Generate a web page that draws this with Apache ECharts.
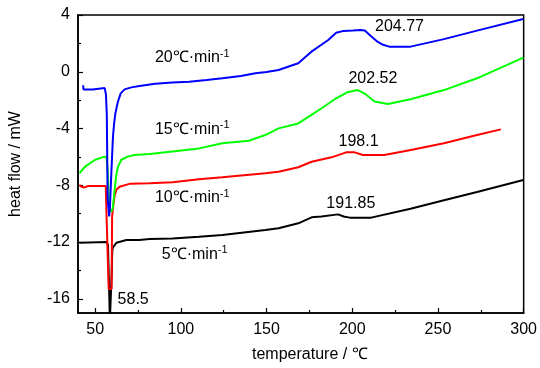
<!DOCTYPE html>
<html>
<head>
<meta charset="utf-8">
<script src="https://cdn.jsdelivr.net/npm/echarts@6/dist/echarts.min.js"></script>
<style>
  html, body { margin: 0; padding: 0; background: #fff; }
  #chart { width: 540px; height: 368px; }
</style>
</head>
<body>
<div id="chart"></div>
<script>
// DSC curves at 4 heating rates
const FONT = "'Liberation Sans', Arial, sans-serif";

const xLabels = [50, 100, 150, 200, 250, 300];
const xMinor = [75, 125, 175, 225, 275];
const yLabels = [4, 0, -4, -8, -12, -16];
const yMinor = [2, -2, -6, -10, -14];

// 20 ℃/min
const tBlue = [43, 43.2, 48.5, 48.6, 55.6, 56.3, 56.8, 57.3, 58.2, 58.6, 59.5, 60.4, 61.1, 61.8, 63.3, 64.9, 67.2, 71.1, 75.9, 85, 95, 104.9, 115, 124.2, 135, 143.5, 150, 157, 168.5, 176, 182, 186, 190.6, 195, 200.4, 204.8, 207.3, 211, 214.9, 218, 221.6, 234, 253.5, 272.8, 299.8];
const vBlue = [-0.95, -1.25, -1.25, -1.15, -1.15, -1.6, -3, -9.0, -10.2, -9.6, -7, -4.57, -3.6, -2.93, -2.1, -1.52, -1.24, -1.1, -1.0, -0.85, -0.75, -0.7, -0.58, -0.46, -0.3, -0.11, -0.02, 0.12, 0.6, 1.4, 1.9, 2.24, 2.75, 2.88, 2.9, 2.95, 2.9, 2.5, 2.1, 1.9, 1.77, 1.77, 2.3, 2.9, 3.72];

// 15 ℃/min
const tGreen = [40.8, 44, 47, 50, 52.7, 55, 56.6, 57.3, 58.3, 59.5, 60.3, 61.4, 62.3, 63.3, 65.3, 69.1, 73, 81.7, 99, 110.6, 124.2, 139.6, 149.3, 157, 168.5, 176, 183, 190.6, 197, 203.3, 208, 213, 220.7, 234, 253.5, 272.8, 299.8];
const vGreen = [-7.16, -6.7, -6.45, -6.2, -6.1, -6.0, -5.98, -7.0, -9.6, -9.86, -9.6, -8.3, -7.3, -6.69, -6.2, -5.98, -5.87, -5.8, -5.56, -5.4, -5.04, -4.86, -4.46, -3.99, -3.64, -3.05, -2.5, -1.87, -1.45, -1.29, -1.6, -2.1, -2.27, -1.94, -1.29, -0.46, 1.0];

// 10 ℃/min
const tRed = [40.8, 42, 43.5, 46, 56.2, 56.6, 57.6, 57.9, 59.6, 59.9, 60.6, 61.4, 62.5, 64.3, 70, 81.7, 95.2, 110.6, 124.2, 149.3, 157, 168.5, 176.3, 187.9, 196.5, 201.4, 206.2, 218.7, 234.2, 253.5, 272.8, 286.7];
const vRed = [-7.98, -8.1, -8.15, -8.05, -8.05, -9.9, -9.9, -15.3, -15.3, -10.2, -9.4, -8.7, -8.3, -8.1, -7.9, -7.86, -7.79, -7.58, -7.44, -7.15, -7.05, -6.73, -6.34, -6.03, -5.68, -5.68, -5.87, -5.87, -5.51, -5.04, -4.46, -4.06];

// 5 ℃/min
const tBlack = [40.8, 56.6, 57.5, 58.3, 58.6, 59.0, 59.6, 60.0, 60.3, 60.8, 62.4, 68.2, 75.9, 81.7, 95.2, 110.6, 124.2, 149.3, 157, 168.5, 176.3, 182, 191.7, 195, 198.5, 211, 234, 253.5, 272.8, 299.8];
const vBlack = [-12.05, -12.0, -12.2, -12.3, -17.5, -17.5, -14.4, -12.6, -12.4, -12.3, -12.05, -11.86, -11.85, -11.78, -11.75, -11.62, -11.5, -11.15, -11.03, -10.68, -10.26, -10.2, -10.05, -10.2, -10.28, -10.28, -9.65, -9.06, -8.47, -7.63];

// annotation texts and where they sit (data coords, left edge)
const rateText = ['20℃·min', '15℃·min', '10℃·min', '5℃·min'];
const rateAt = [[84.6, 0.97], [84.6, -4.1], [84.6, -8.9], [88.6, -12.9]];
const peakText = ['204.77', '202.52', '198.1', '191.85'];
const peakAt = [[213, 3.18], [197.5, -0.46], [191.7, -4.93], [184.6, -9.27]];
const onsetText = '58.5';
const onsetAt = [62.8, -16.08];

const zip = (t, v) => t.map((x, i) => [x, v[i]]);

const txt = { color: '#000', fontFamily: FONT, fontSize: 16 };

const note = (coord, text, sup) => ({
  coord: coord,
  label: {
    formatter: sup ? '{b|' + text + '}{s|-1}' : '{b|' + text + '}'
  }
});

const mkSeries = (name, t, v, color, notes) => ({
  name: name,
  type: 'line',
  data: zip(t, v),
  showSymbol: false,
  symbol: 'none',
  lineStyle: { color: color, width: 2 },
  itemStyle: { color: color },
  animation: false,
  markPoint: {
    symbol: 'circle',
    symbolSize: 1,
    itemStyle: { color: 'rgba(0,0,0,0)' },
    label: {
      show: true,
      position: 'right',
      distance: 0,
      rich: {
        b: { ...txt, lineHeight: 18 },
        s: { color: '#000', fontFamily: FONT, fontSize: 11, lineHeight: 11, padding: [0, 0, 9, 0] }
      }
    },
    data: notes
  }
});

const chart = echarts.init(document.getElementById('chart'));

chart.setOption({
  backgroundColor: '#fff',
  animation: false,
  grid: {
    left: 78, right: 13, top: 15, bottom: 55,
    show: true, borderColor: '#000', borderWidth: 1.5
  },
  xAxis: [{
    type: 'value', min: 40, max: 300, position: 'bottom',
    axisLine: { show: true, onZero: false, lineStyle: { color: '#000', width: 1.5 } },
    axisTick: { inside: true, length: 5, customValues: xLabels, lineStyle: { color: '#000', width: 1.2 } },
    axisLabel: { customValues: xLabels, margin: 9, ...txt },
    splitLine: { show: false },
    name: 'temperature / ℃', nameLocation: 'middle', nameGap: 34,
    nameTextStyle: { ...txt, padding: [0, 0, 0, 18] }
  }, {
    type: 'value', min: 40, max: 300, position: 'bottom',
    axisLine: { show: false, onZero: false },
    axisTick: { show: true, inside: true, length: 3, customValues: xMinor, lineStyle: { color: '#000', width: 1.2 } },
    axisLabel: { show: false },
    splitLine: { show: false }
  }],
  yAxis: [{
    type: 'value', min: -17, max: 4, position: 'left',
    axisLine: { show: true, onZero: false, lineStyle: { color: '#000', width: 1.5 } },
    axisTick: { inside: true, length: 5, customValues: yLabels, lineStyle: { color: '#000', width: 1.2 } },
    axisLabel: { customValues: yLabels, margin: 8, ...txt },
    splitLine: { show: false },
    name: 'heat flow / mW', nameLocation: 'middle', nameGap: 54,
    nameTextStyle: txt
  }, {
    type: 'value', min: -17, max: 4, position: 'left',
    axisLine: { show: false, onZero: false },
    axisTick: { show: true, inside: true, length: 3, customValues: yMinor, lineStyle: { color: '#000', width: 1.2 } },
    axisLabel: { show: false },
    splitLine: { show: false }
  }],
  series: [
    mkSeries('5', tBlack, vBlack, '#000000', [note(rateAt[3], rateText[3], true), note(peakAt[3], peakText[3]), note(onsetAt, onsetText)]),
    mkSeries('10', tRed, vRed, '#ff0000', [note(rateAt[2], rateText[2], true), note(peakAt[2], peakText[2])]),
    mkSeries('15', tGreen, vGreen, '#00ff00', [note(rateAt[1], rateText[1], true), note(peakAt[1], peakText[1])]),
    mkSeries('20', tBlue, vBlue, '#0000ff', [note(rateAt[0], rateText[0], true), note(peakAt[0], peakText[0])])
  ]
});
</script>
</body>
</html>
